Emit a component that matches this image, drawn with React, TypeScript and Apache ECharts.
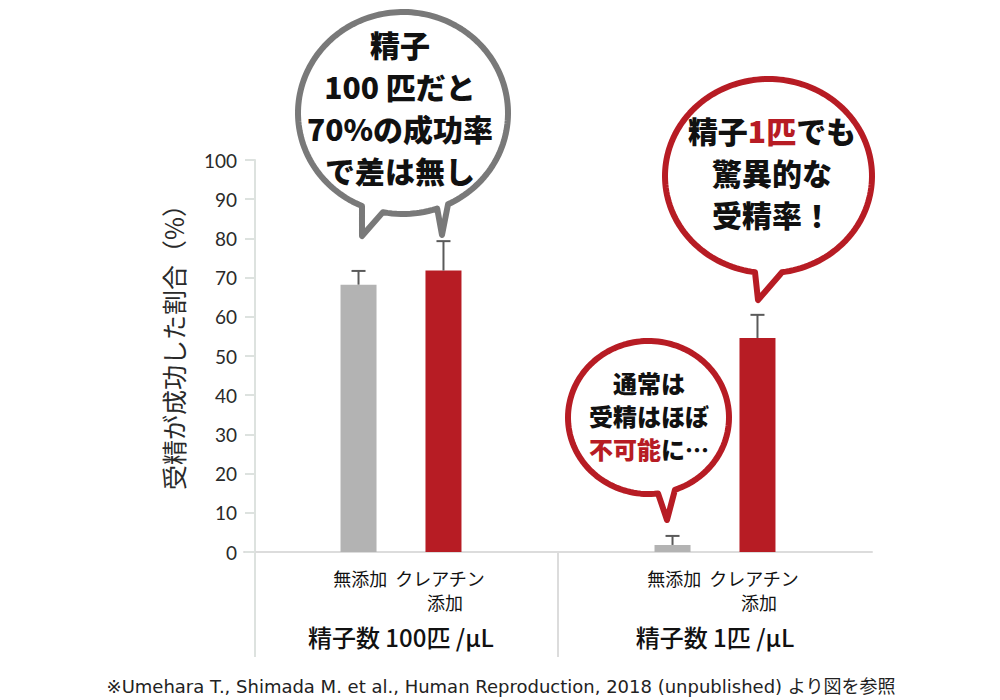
import React, { useEffect, useRef } from 'react';
import * as echarts from 'echarts';

// ---- data ----
const categories = ['精子数 100匹 /μL', '精子数 1匹 /μL'];
const seriesNames = ['無添加', 'クレアチン添加'];
const controlValues = [68.2, 1.8];
const creatineValues = [71.8, 54.6];
const controlErrors = [3.5, 2.3];
const creatineErrors = [7.5, 5.9];
const yMin = 0;
const yMax = 100;
const yInterval = 10;
const subLabelLine1 = '無添加  クレアチン';
const subLabelLine2 = '添加';
const yAxisTitle = '受精が成功した割合（%）';
const footnote = '※Umehara T., Shimada M. et al., Human Reproduction, 2018 (unpublished) より図を参照';

// ---- style ----
const GRAY = '#b3b3b3';
const RED = '#b71c24';
const ERR = '#5a5a5a';
const AXIS = '#dde2df';
const BAR_WIDTH = 36;
const BAR_GAP = 1.36;
const BAR_OFFSET = (BAR_WIDTH * (1 + BAR_GAP)) / 2;
const JP = '"Noto Sans CJK JP", "Noto Sans", sans-serif';

function arcPts(cx: number, cy: number, rx: number, ry: number, a0: number, a1: number, n: number) {
  const pts: number[][] = [];
  for (let i = 0; i <= n; i++) {
    const a = ((a0 + ((a1 - a0) * i) / n) * Math.PI) / 180;
    pts.push([cx + rx * Math.cos(a), cy + ry * Math.sin(a)]);
  }
  return pts;
}

const bubble1 = [
  ...arcPts(403, 113, 105, 101, 113, 424.6, 160),
  [442, 235],
  ...arcPts(403, 113, 105, 101, 71, 101, 12),
  [362, 236],
];
const bubble2 = [...arcPts(768.5, 176, 103.5, 97, 97.5, 442.5, 160), [758, 300]];
const bubble3 = [...arcPts(648.5, 417.5, 80.5, 76.5, 83.2, 430.8, 140), [667, 520]];

function errSeries(values: number[], errors: number[], sign: number) {
  return {
    type: 'custom',
    data: values.map((v, i) => [i, v, v + errors[i]]),
    encode: { x: 0, y: [1, 2] },
    z: 3,
    renderItem: (_params: any, api: any) => {
      const base = api.coord([api.value(0), api.value(1)]);
      const top = api.coord([api.value(0), api.value(2)]);
      const x = base[0] + sign * BAR_OFFSET;
      return {
        type: 'group',
        children: [
          { type: 'line', shape: { x1: x, y1: base[1], x2: x, y2: top[1] }, style: { stroke: ERR, lineWidth: 2 } },
          { type: 'line', shape: { x1: x - 7, y1: top[1], x2: x + 7, y2: top[1] }, style: { stroke: ERR, lineWidth: 2 } },
        ],
      };
    },
  };
}

const bubbleText = (size: number, color: string) => ({
  fill: color,
  fontSize: size,
  fontWeight: 900,
  fontFamily: JP,
});

export default function App() {
  const ref = useRef<HTMLDivElement>(null);
  useEffect(() => {
    document.body.style.margin = '0';
    const chart = echarts.init(ref.current!, undefined, { renderer: 'svg' });
    chart.setOption({
      animation: false,
      grid: { left: 244, right: 128, top: 160, bottom: 148 },
      xAxis: {
        type: 'category',
        data: categories,
        axisLine: { show: true, lineStyle: { color: '#dcdcdc', width: 2 } },
        axisTick: { show: false },
        axisLabel: {
          margin: 14,
          interval: 0,
          formatter: (v: string) => `{a|${subLabelLine1}}\n{b|${subLabelLine2}}\n{c|${v}}`,
          rich: {
            a: { fontSize: 18, lineHeight: 24, color: '#111', fontFamily: JP, padding: [0, 0, 0, 16] },
            b: { fontSize: 18, lineHeight: 24, color: '#111', fontFamily: JP, padding: [0, 0, 0, 88] },
            c: { fontSize: 24, lineHeight: 44, color: '#111', fontFamily: JP, fontWeight: 500 },
          },
        },
      },
      yAxis: {
        type: 'value',
        min: yMin,
        max: yMax,
        interval: yInterval,
        offset: -11,
        splitLine: { show: false },
        axisLine: { show: true, lineStyle: { color: AXIS, width: 2 } },
        axisTick: { show: true, length: 10, lineStyle: { color: AXIS, width: 2 } },
        axisLabel: { margin: 18, fontSize: 19, color: '#2a2a2a', fontFamily: 'Lato, "Noto Sans", sans-serif' },
      },
      series: [
        { name: seriesNames[0], type: 'bar', data: controlValues, barWidth: BAR_WIDTH, barGap: `${BAR_GAP * 100}%`, itemStyle: { color: GRAY } },
        { name: seriesNames[1], type: 'bar', data: creatineValues, barWidth: BAR_WIDTH, barGap: `${BAR_GAP * 100}%`, itemStyle: { color: RED } },
        errSeries(controlValues, controlErrors, -1),
        errSeries(creatineValues, creatineErrors, 1),
      ],
      graphic: [
        { type: 'line', shape: { x1: 255, y1: 552, x2: 255, y2: 657 }, style: { stroke: AXIS, lineWidth: 2 } },
        { type: 'line', shape: { x1: 558, y1: 552, x2: 558, y2: 657 }, style: { stroke: '#dcdcdc', lineWidth: 2 } },
        {
          type: 'text', x: 173, y: 341, rotation: Math.PI / 2,
          style: { text: yAxisTitle, fill: '#2a2a2a', font: `25px ${JP}`, textAlign: 'center', textVerticalAlign: 'middle' },
        },
        {
          type: 'text', x: 501, y: 686,
          style: { text: footnote, fill: '#222', font: `18px "DejaVu Sans", ${JP}`, textAlign: 'center', textVerticalAlign: 'middle' },
        },
        { type: 'polygon', z: 10, shape: { points: bubble1 }, style: { fill: '#fff', stroke: '#797979', lineWidth: 6, lineJoin: 'round' } },
        { type: 'polygon', z: 10, shape: { points: bubble2 }, style: { fill: '#fff', stroke: RED, lineWidth: 6, lineJoin: 'round' } },
        { type: 'polygon', z: 10, shape: { points: bubble3 }, style: { fill: '#fff', stroke: RED, lineWidth: 6, lineJoin: 'round' } },
        {
          type: 'text', z: 11, x: 400, y: 106.5,
          style: {
            text: '{k|精子}\n{k|100 匹だと}\n{k|70%の成功率}\n{k|で差は無し}',
            rich: { k: { ...bubbleText(30, '#111'), lineHeight: 42 } },
            textAlign: 'center', textVerticalAlign: 'middle',
          },
        },
        {
          type: 'text', z: 11, x: 772, y: 171.5,
          style: {
            text: '{k|精子}{r|1匹}{k|でも}\n{k|驚異的な}\n{k|受精率！}',
            rich: { k: { ...bubbleText(30, '#111'), lineHeight: 42 }, r: { ...bubbleText(30, RED), lineHeight: 42 } },
            textAlign: 'center', textVerticalAlign: 'middle',
          },
        },
        {
          type: 'text', z: 11, x: 649, y: 415.5,
          style: {
            text: '{k|通常は}\n{k|受精はほぼ}\n{r|不可能}{k|に…}',
            rich: { k: { ...bubbleText(24, '#111'), lineHeight: 33 }, r: { ...bubbleText(24, RED), lineHeight: 33 } },
            textAlign: 'center', textVerticalAlign: 'middle',
          },
        },
      ],
    });
    return () => chart.dispose();
  }, []);
  return <div ref={ref} style={{ width: 1000, height: 700 }} />;
}
